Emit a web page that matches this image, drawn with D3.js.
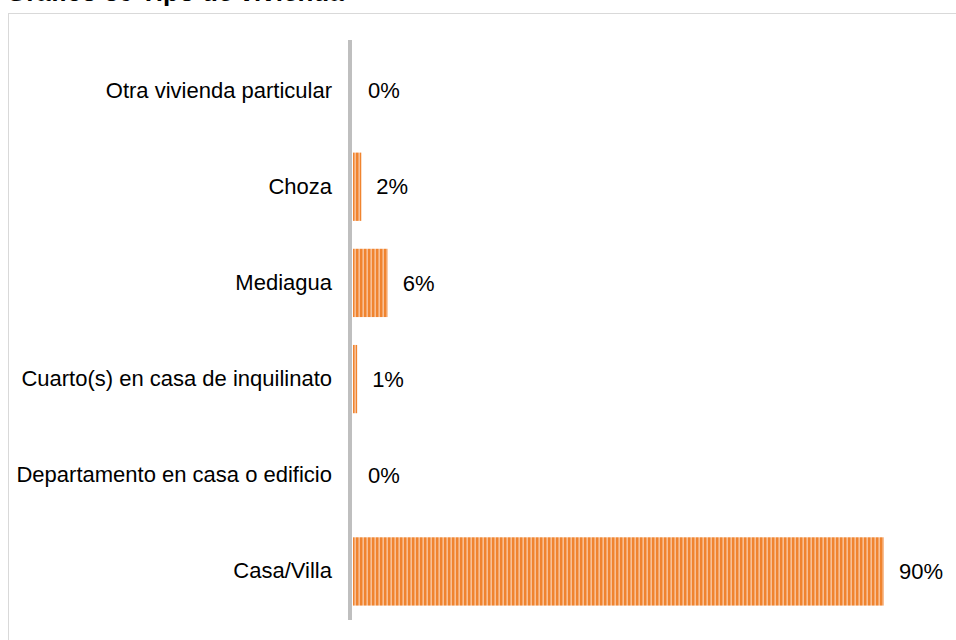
<!DOCTYPE html>
<html>
<head>
<meta charset="utf-8">
<script src="https://cdn.jsdelivr.net/npm/d3@7"></script>
<style>
  body { margin: 0; background: #fff; }
  svg { display: block; font-family: "Liberation Sans", Arial, sans-serif; }
</style>
</head>
<body>
<div id="chart"></div>
<script>
// data (top to bottom)
const categories = ["Otra vivienda particular", "Choza", "Mediagua", "Cuarto(s) en casa de inquilinato", "Departamento en casa o edificio", "Casa/Villa"];
const values = [0, 1.4, 5.9, 0.7, 0, 90];
const value_labels = ["0%", "2%", "6%", "1%", "0%", "90%"];

const frame_width = 956;
const frame_height = 640;
const margins = {left: 353, right: 72, top: 42, bottom: 20};

const FRAME =
d3.select("#chart")
    .append("svg")
        .attr("width", frame_width)
        .attr("height", frame_height);

// stripe pattern for the bars
const pat = FRAME.append("defs").append("pattern")
    .attr("id", "stripes")
    .attr("patternUnits", "userSpaceOnUse")
    .attr("width", 4)
    .attr("height", 4);
pat.append("rect").attr("width", 4).attr("height", 4).attr("fill", "#f8bf94");
pat.append("rect").attr("width", 2.4).attr("height", 4).attr("fill", "#f0842f");

// title, cut off at the top edge in the original
FRAME.append("text")
    .attr("x", 6)
    .attr("y", 1)
    .attr("font-size", "26px")
    .attr("font-weight", "bold")
    .text("Gráfico 30 Tipo de vivienda");

// outer frame
FRAME.append("rect")
    .attr("x", 8.5)
    .attr("y", 13.5)
    .attr("width", frame_width)
    .attr("height", frame_height)
    .attr("fill", "none")
    .attr("stroke", "#d9d9d9");

const x_scale =
d3.scaleLinear()
    .domain([0, 90])
    .range([margins.left, frame_width - margins.right]);

const y_scale =
d3.scaleBand()
    .domain(categories)
    .range([margins.top, frame_height - margins.bottom])
    .paddingInner(0.29)
    .paddingOuter(0.15);

// bars
FRAME.selectAll(".bar")
    .data(values)
    .enter()
    .append("rect")
        .attr("class", "bar")
        .attr("x", x_scale(0))
        .attr("y", (d, i) => y_scale(categories[i]))
        .attr("width", d => x_scale(d) - x_scale(0))
        .attr("height", y_scale.bandwidth())
        .attr("fill", "url(#stripes)");

// value labels
FRAME.selectAll(".val")
    .data(values)
    .enter()
    .append("text")
        .attr("class", "val")
        .attr("x", d => x_scale(d) + 15)
        .attr("y", (d, i) => y_scale(categories[i]) + y_scale.bandwidth() / 2)
        .attr("dy", "0.35em")
        .attr("font-size", "22px")
        .attr("fill", "#000")
        .text((d, i) => value_labels[i]);

// category axis
const yAxis = FRAME.append("g")
    .attr("transform", "translate(" + (margins.left - 3) + ",0)")
    .call(d3.axisLeft(y_scale).tickSize(0).tickPadding(18));

yAxis.select(".domain")
    .attr("stroke", "#bfbfbf")
    .attr("stroke-width", 4)
    .attr("d", "M0,40V620");

yAxis.selectAll("text")
    .attr("font-size", "22px")
    .attr("font-family", "Liberation Sans, Arial, sans-serif")
    .attr("fill", "#000");
</script>
</body>
</html>
